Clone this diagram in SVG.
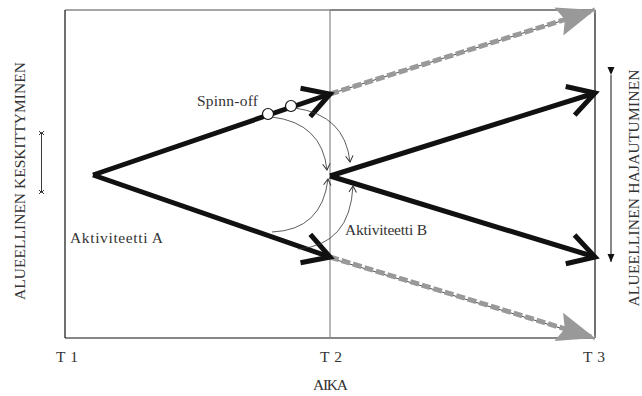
<svg xmlns="http://www.w3.org/2000/svg" width="642" height="396" viewBox="0 0 642 396">
<style>
.lbl{font-family:"Liberation Serif","Times New Roman",serif;font-size:15.5px;fill:#333}
.main{stroke:#111;stroke-width:5;fill:none;marker-end:url(#chev)}
.gray{stroke:#999;stroke-width:5;fill:none;stroke-dasharray:9 3}
.thin{stroke:#222;stroke-width:0.8;fill:none}
.curve{stroke:#333;stroke-width:0.8;fill:none;marker-end:url(#open)}
</style>
<defs>
<marker id="chev" markerUnits="userSpaceOnUse" markerWidth="40" markerHeight="40" refX="0" refY="0" viewBox="-34 -20 38 40" orient="auto" overflow="visible">
<path d="M-26,-15 L0,0 L-26,15" fill="none" stroke="#111" stroke-width="5" stroke-linejoin="miter" stroke-miterlimit="10"/>
</marker>
<marker id="gtri" markerUnits="userSpaceOnUse" markerWidth="40" markerHeight="40" refX="0" refY="0" viewBox="-36 -16 38 32" orient="auto" overflow="visible">
<path d="M0,0 L-36,-14 L-30,0 L-36,14 Z" fill="#999"/>
</marker>
<marker id="open" markerUnits="userSpaceOnUse" markerWidth="10" markerHeight="10" refX="0" refY="0" viewBox="-6 -4 8 8" orient="auto" overflow="visible">
<path d="M-5,-3 L0,0 L-5,3" fill="none" stroke="#333" stroke-width="0.8"/>
</marker>
<marker id="fill" markerUnits="userSpaceOnUse" markerWidth="10" markerHeight="10" refX="0" refY="0" viewBox="-8 -4 10 8" orient="auto" overflow="visible">
<path d="M0,0 L-8,-3.5 L-8,3.5 Z" fill="#111"/>
</marker>
</defs>
<g id="frame">
<line x1="65" y1="10" x2="330" y2="10" stroke="#888" stroke-width="1.5"/>
<line x1="330" y1="10" x2="595" y2="10" stroke="#111" stroke-width="1.2"/>
<line x1="65" y1="10" x2="65" y2="338" stroke="#111" stroke-width="1.2"/>
<line x1="595" y1="10" x2="595" y2="338" stroke="#111" stroke-width="1.2"/>
<line x1="65" y1="338" x2="595" y2="338" stroke="#111" stroke-width="1.2"/>
<line x1="330" y1="10" x2="330" y2="338" stroke="#888" stroke-width="1.2"/>
</g>
<g id="connectors">
<line class="thin" x1="330" y1="94" x2="580" y2="15"/>
<line class="gray" x1="330" y1="94" x2="595" y2="10" marker-end="url(#gtri)"/>
<line class="thin" x1="330" y1="258" x2="580" y2="334"/>
<line class="gray" x1="330" y1="257" x2="595" y2="338" marker-end="url(#gtri)"/>
<line class="main" x1="93" y1="175" x2="330" y2="94"/>
<line class="main" x1="93" y1="175" x2="330" y2="257"/>
<line class="main" x1="330" y1="176" x2="595" y2="93"/>
<line class="main" x1="330" y1="176" x2="595" y2="257"/>
<path class="curve" d="M272,117 Q322,123 327,170"/>
<path class="curve" d="M295,108 Q345,115 350,162"/>
<path class="curve" d="M272,232 Q322,230 328,179"/>
<path class="curve" d="M298,249 Q350,245 353,186"/>
<line x1="611" y1="75" x2="611" y2="262" stroke="#111" stroke-width="1" marker-start="url(#fill)" marker-end="url(#fill)"/>
<g id="leftArrow" stroke="#222" stroke-width="0.9" fill="none">
<line x1="41.5" y1="133" x2="41.5" y2="192"/>
<path d="M39,131 L41.5,133.5 L44,131 M39,135 L41.5,132.5 L44,135"/>
<path d="M39,190 L41.5,192.5 L44,190 M39,194 L41.5,191.5 L44,194"/>
</g>
</g>
<g id="spinoff">
<circle cx="268" cy="114" r="5.5" fill="#fff" stroke="#111" stroke-width="1.2"/>
<circle cx="291" cy="106" r="5.5" fill="#fff" stroke="#111" stroke-width="1.2"/>
<text class="lbl" x="197" y="106" textLength="61">Spinn-off</text>
</g>
<g id="labels">
<text class="lbl" x="70" y="243" textLength="93">Aktiviteetti A</text>
<text class="lbl" x="345" y="235" textLength="82">Aktiviteetti B</text>
<text class="lbl" x="56" y="362" textLength="22">T 1</text>
<text class="lbl" x="320" y="362" textLength="22">T 2</text>
<text class="lbl" x="583" y="362" textLength="22">T 3</text>
<text class="lbl" x="313" y="390" textLength="35">AIKA</text>
<text class="lbl" transform="translate(25,181) rotate(-90)" text-anchor="middle" textLength="238">ALUEELLINEN KESKITTYMINEN</text>
<text class="lbl" transform="translate(639,188) rotate(-90)" text-anchor="middle" textLength="237">ALUEELLINEN HAJAUTUMINEN</text>
</g>
</svg>
